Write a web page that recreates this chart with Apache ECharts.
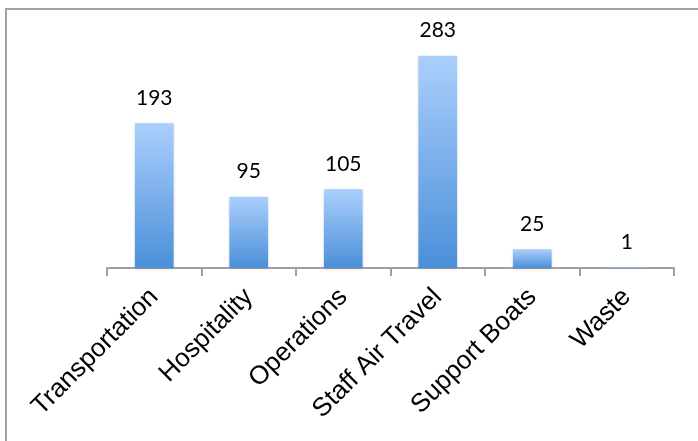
<!DOCTYPE html>
<html>
<head>
<meta charset="utf-8">
<script src="https://cdn.jsdelivr.net/npm/echarts@6/dist/echarts.min.js"></script>
<style>
    html, body { margin: 0; padding: 0; background: #fff; }
    #chart { width: 698px; height: 441px; }
</style>
</head>
<body>
<div id="chart"></div>
<script>
var categories = ['Transportation', 'Hospitality', 'Operations', 'Staff Air Travel', 'Support Boats', 'Waste']
var emissions = [193, 95, 105, 283, 25, 1]

var chart = echarts.init(document.getElementById('chart'))
chart.setOption({
    animation: false,
    graphic: [
        {
            type: 'rect',
            shape: { x: 6, y: 9, width: 800, height: 600 },
            style: { fill: 'none', stroke: '#a3a3a3', lineWidth: 2 }
        }
    ],
    grid: {
        left: 107,
        right: 24,
        top: 43,
        bottom: 173
    },
    xAxis: {
        type: 'category',
        data: categories,
        axisLine: {
            lineStyle: { color: '#a0a0a0', width: 2 }
        },
        axisTick: {
            show: true,
            alignWithLabel: false,
            interval: 0,
            length: 8,
            lineStyle: { color: '#a0a0a0', width: 2 }
        },
        axisLabel: {
            rotate: 45,
            interval: 0,
            margin: 25,
            color: '#000',
            fontFamily: 'Liberation Sans',
            fontSize: 26
        }
    },
    yAxis: {
        type: 'value',
        min: 0,
        max: 300,
        show: false
    },
    series: [
        {
            type: 'bar',
            data: emissions,
            barWidth: '41%',
            itemStyle: {
                color: new echarts.graphic.LinearGradient(0, 0, 0, 1, [
                    { offset: 0, color: '#abcffc' },
                    { offset: 1, color: '#4a8fd9' }
                ]),
                shadowColor: 'rgba(0,0,0,0.15)',
                shadowBlur: 3,
                shadowOffsetY: 1
            },
            label: {
                show: true,
                position: 'top',
                distance: 15,
                color: '#000',
                fontFamily: 'Lato',
                fontSize: 21
            }
        }
    ]
})
</script>
</body>
</html>
